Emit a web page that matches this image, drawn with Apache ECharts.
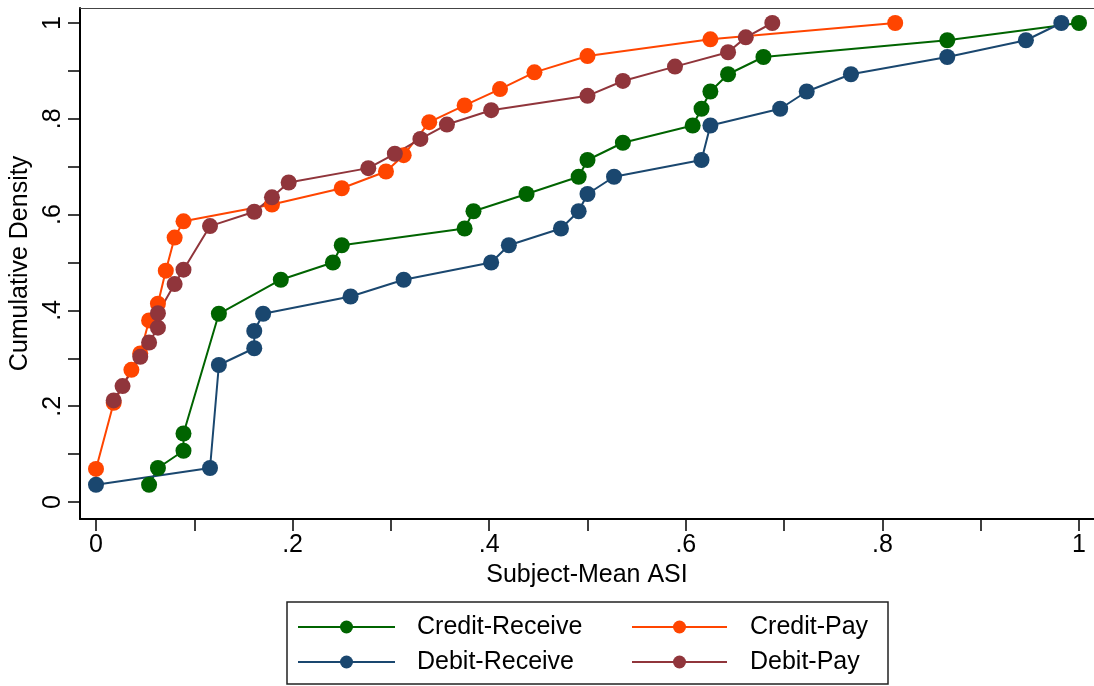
<!DOCTYPE html>
<html>
<head>
<meta charset="utf-8">
<title>Cumulative Density of Subject-Mean ASI</title>
<script src="https://cdn.jsdelivr.net/npm/echarts@6/dist/echarts.min.js"></script>
<style>
  html, body { margin: 0; padding: 0; background: #fff; }
  #chart { width: 1094px; height: 686px; }
</style>
</head>
<body>
<div id="chart"></div>
<script>
// Empirical CDFs of subject-mean ASI by treatment
const seriesNames = ['Credit-Receive', 'Credit-Pay', 'Debit-Receive', 'Debit-Pay'];

const creditReceiveX = [0.054, 0.063, 0.089, 0.089, 0.125, 0.188, 0.241, 0.250, 0.375, 0.384, 0.438, 0.491, 0.500, 0.536, 0.607, 0.616, 0.625, 0.643, 0.679, 0.866, 1.000];
const creditReceiveY = [0.036, 0.071, 0.107, 0.143, 0.393, 0.464, 0.500, 0.536, 0.571, 0.607, 0.643, 0.679, 0.714, 0.750, 0.786, 0.821, 0.857, 0.893, 0.929, 0.964, 1.000];

const creditPayX = [0.000, 0.018, 0.036, 0.045, 0.054, 0.063, 0.071, 0.080, 0.089, 0.179, 0.250, 0.295, 0.313, 0.339, 0.375, 0.411, 0.446, 0.500, 0.625, 0.813];
const creditPayY = [0.069, 0.207, 0.276, 0.310, 0.379, 0.414, 0.483, 0.552, 0.586, 0.621, 0.655, 0.690, 0.724, 0.793, 0.828, 0.862, 0.897, 0.931, 0.966, 1.000];

const debitReceiveX = [0.000, 0.116, 0.125, 0.161, 0.161, 0.170, 0.259, 0.313, 0.402, 0.420, 0.473, 0.491, 0.500, 0.527, 0.616, 0.625, 0.696, 0.723, 0.768, 0.866, 0.946, 0.982];
const debitReceiveY = [0.036, 0.071, 0.286, 0.321, 0.357, 0.393, 0.429, 0.464, 0.500, 0.536, 0.571, 0.607, 0.643, 0.679, 0.714, 0.786, 0.821, 0.857, 0.893, 0.929, 0.964, 1.000];

const debitPayX = [0.018, 0.027, 0.045, 0.054, 0.063, 0.063, 0.080, 0.089, 0.116, 0.161, 0.179, 0.196, 0.277, 0.304, 0.330, 0.357, 0.402, 0.500, 0.536, 0.589, 0.643, 0.661, 0.688];
const debitPayY = [0.212, 0.242, 0.303, 0.333, 0.364, 0.394, 0.455, 0.485, 0.576, 0.606, 0.636, 0.667, 0.697, 0.727, 0.758, 0.788, 0.818, 0.848, 0.879, 0.909, 0.939, 0.970, 1.000];

// Axis ticks: labelled every .2, unlabelled ticks every .1
const tickValues = [0, 0.1, 0.2, 0.3, 0.4, 0.5, 0.6, 0.7, 0.8, 0.9, 1];
const labelValues = [0, 0.2, 0.4, 0.6, 0.8, 1];
const tickLabels = ['0', '.2', '.4', '.6', '.8', '1'];

const colors = ['#006400', '#ff4500', '#1a476f', '#90353b'];
const FONT = "'Liberation Sans', Arial, Helvetica, sans-serif";
const FS = 25;

// Axis extents (a little padding around 0..1, open on the right)
const X_MIN = -0.01628, X_MAX = 1.01526;
const Y_MIN = -0.03549, Y_MAX = 1.03132;

function pairs(xs, ys) { return xs.map((x, i) => [x, ys[i]]); }
const seriesData = [
  pairs(creditReceiveX, creditReceiveY),
  pairs(creditPayX, creditPayY),
  pairs(debitReceiveX, debitReceiveY),
  pairs(debitPayX, debitPayY)
];

function labelFor(v) {
  const i = labelValues.findIndex(t => Math.abs(t - v) < 1e-9);
  return i >= 0 ? tickLabels[i] : '';
}

const chart = echarts.init(document.getElementById('chart'), null, { renderer: 'canvas' });

// Legend box: two columns, two rows
const legendCols = [{ lineX1: 298, lineX2: 395, textX: 417 }, { lineX1: 632, lineX2: 727, textX: 750 }];
const legendRows = [627, 662];
const legendGraphics = [{
  type: 'rect', shape: { x: 287, y: 602, width: 601, height: 82 },
  style: { fill: '#fff', stroke: '#222', lineWidth: 1.5 }, z: 10
}];
seriesNames.forEach((name, i) => {
  const col = legendCols[i % 2];
  const y = legendRows[Math.floor(i / 2)];
  legendGraphics.push({
    type: 'line', shape: { x1: col.lineX1, y1: y, x2: col.lineX2, y2: y },
    style: { stroke: colors[i], lineWidth: 2 }, z: 11
  });
  legendGraphics.push({
    type: 'circle', shape: { cx: (col.lineX1 + col.lineX2) / 2, cy: y, r: 6.5 },
    style: { fill: colors[i] }, z: 12
  });
  legendGraphics.push({
    type: 'text', x: col.textX, y: y,
    style: { text: name, fill: '#000', font: FS + 'px ' + FONT, textVerticalAlign: 'middle', textAlign: 'left' }, z: 12
  });
});

const option = {
  backgroundColor: '#fff',
  animation: false,
  grid: { left: 80, top: 8, right: 0, bottom: 167, show: false },
  xAxis: [{
    type: 'value',
    min: X_MIN, max: X_MAX,
    name: 'Subject-Mean ASI',
    nameLocation: 'middle',
    nameGap: 42,
    nameTextStyle: { fontFamily: FONT, fontSize: FS, color: '#000' },
    axisLine: { onZero: false, lineStyle: { color: '#000', width: 2 } },
    axisTick: { show: true, customValues: tickValues, length: 12, lineStyle: { color: '#000', width: 1.5 } },
    axisLabel: { customValues: labelValues, formatter: labelFor, margin: 14, fontFamily: FONT, fontSize: FS, color: '#000' },
    splitLine: { show: false }
  }, {
    // thin frame line along the top of the plot region
    type: 'value', position: 'top',
    min: X_MIN, max: X_MAX,
    axisLine: { onZero: false, lineStyle: { color: '#444', width: 1 } },
    axisTick: { show: false }, axisLabel: { show: false }, splitLine: { show: false }
  }],
  yAxis: {
    type: 'value',
    min: Y_MIN, max: Y_MAX,
    name: 'Cumulative Density',
    nameLocation: 'middle',
    nameGap: 39,
    nameRotate: 90,
    nameTextStyle: { fontFamily: FONT, fontSize: FS, color: '#000' },
    axisLine: { onZero: false, lineStyle: { color: '#000', width: 2 } },
    axisTick: { show: true, customValues: tickValues, length: 12, lineStyle: { color: '#000', width: 1.5 } },
    axisLabel: { customValues: labelValues, formatter: labelFor, rotate: 90, margin: 14, fontFamily: FONT, fontSize: FS, color: '#000' },
    splitLine: { show: false }
  },
  series: seriesNames.map((name, i) => ({
    name: name,
    type: 'line',
    xAxisIndex: 0,
    data: seriesData[i],
    symbol: 'circle',
    symbolSize: 16,
    showAllSymbol: true,
    lineStyle: { color: colors[i], width: 2 },
    itemStyle: { color: colors[i] },
    emphasis: { disabled: true },
    clip: false
  })),
  graphic: legendGraphics
};

chart.setOption(option);
</script>
</body>
</html>
